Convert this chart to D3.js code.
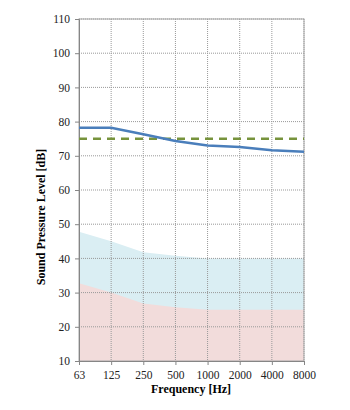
<!DOCTYPE html>
<html><head><meta charset="utf-8">
<script src="https://cdn.jsdelivr.net/npm/d3@7"></script>
<style>body{margin:0;background:#fff}svg{display:block}text{font-family:"Liberation Serif","Times New Roman",serif}</style>
</head><body><svg id="c" width="350" height="410"></svg>
<script>
const categories = ["63","125","250","500","1000","2000","4000","8000"];
const measured = [78.2, 78.2, 76.3, 74.3, 73.0, 72.6, 71.6, 71.2];
const limit = [75, 75, 75, 75, 75, 75, 75, 75];
const upperBand = [47.8, 45.0, 41.8, 40.8, 40, 40, 40, 40];
const lowerBand = [32.7, 30.0, 26.8, 25.7, 25, 25, 25, 25];
const yTicks = [10,20,30,40,50,60,70,80,90,100,110];

const svg = d3.select("#c");
const L=79, R=304, T=19, B=361;
const x = d3.scalePoint().domain(categories).range([L,R]);
const y = d3.scaleLinear().domain([10,110]).range([B,T]);

// bands
const area = (arr)=>d3.area().x((d,i)=>x(categories[i])).y0(y(10)).y1(d=>y(d))(arr);
svg.append("path").attr("d",area(upperBand)).attr("fill","#daeef3");
svg.append("path").attr("d",area(lowerBand)).attr("fill","#f2dcdb");

// grid
const g = svg.append("g");
yTicks.forEach(t=>{ if(t>10) g.append("line").attr("x1",L).attr("x2",R).attr("y1",y(t)).attr("y2",y(t)).attr("stroke","#999").attr("stroke-dasharray","1,1").attr("stroke-width",1); });
categories.forEach(c=>{ if(c!=="63") g.append("line").attr("x1",x(c)).attr("x2",x(c)).attr("y1",T).attr("y2",B).attr("stroke","#999").attr("stroke-dasharray","1,1").attr("stroke-width",1); });
// border
svg.append("rect").attr("x",L).attr("y",T).attr("width",R-L).attr("height",B-T).attr("fill","none").attr("stroke","#a6a6a6").attr("stroke-width",1);

// axes
const ya = svg.append("g").attr("transform",`translate(${L},0)`).call(d3.axisLeft(y).tickValues(yTicks).tickSize(4).tickPadding(5));
const xa = svg.append("g").attr("transform",`translate(0,${B})`).call(d3.axisBottom(x).tickSize(4).tickPadding(6));
[ya,xa].forEach(a=>{a.selectAll("path,line").attr("stroke","#868686");a.selectAll("text").attr("font-size",11.5).attr("fill","#222");});

// lines
const line = d3.line().x((d,i)=>x(categories[i])).y(d=>y(d));
svg.append("path").attr("d",line(limit)).attr("fill","none").attr("stroke","#77933c").attr("stroke-width",2.5).attr("stroke-dasharray","8,6");
svg.append("path").attr("d",line(measured)).attr("fill","none").attr("stroke","#4a7ebb").attr("stroke-width",2.5);

// labels
svg.append("text").attr("x",191).attr("y",393).attr("text-anchor","middle").attr("font-weight","bold").attr("font-size",12).text("Frequency [Hz]");
svg.append("text").attr("transform","translate(45,217) rotate(-90)").attr("text-anchor","middle").attr("font-weight","bold").attr("font-size",12).text("Sound Pressure Level [dB]");
</script></body></html>
